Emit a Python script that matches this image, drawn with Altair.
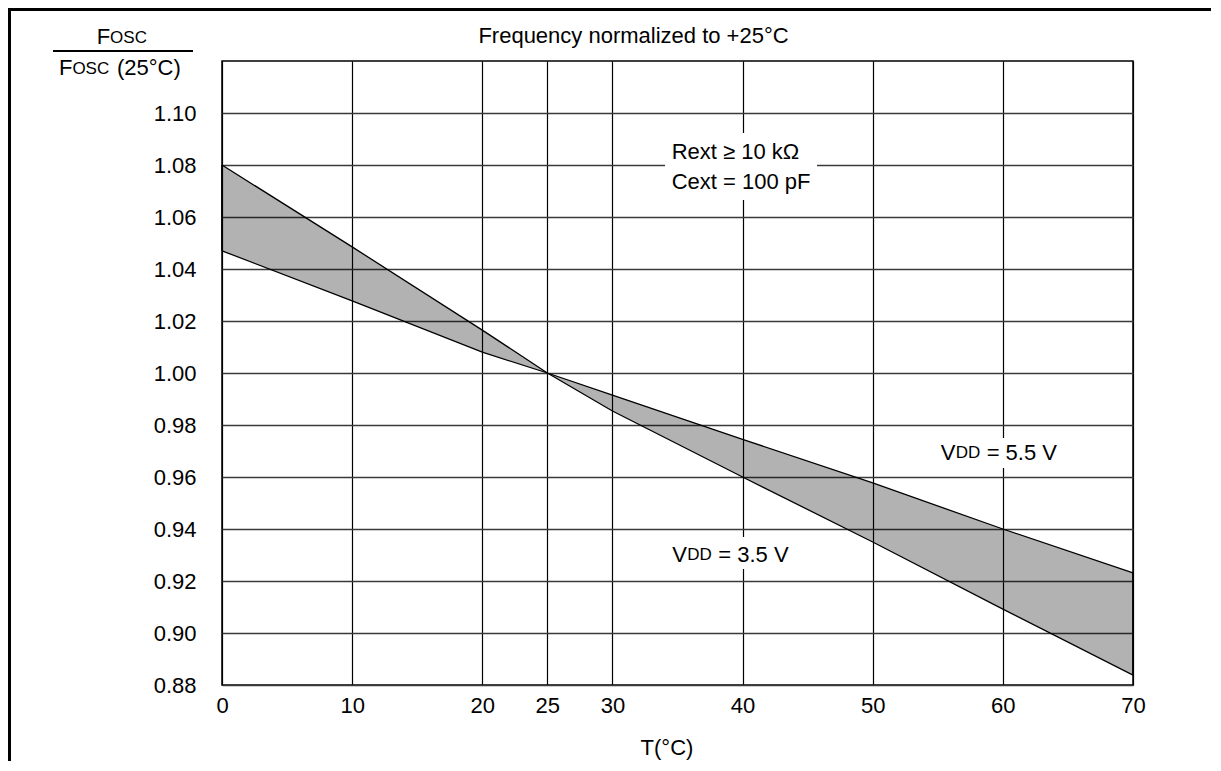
import altair as alt
import pandas as pd

# ---- data ----
temps = [0, 10, 20, 25, 30, 40, 50, 60, 70]
vdd_35 = [1.080, 1.0485, 1.0165, 1.000, 0.9854, 0.960, 0.935, 0.9092, 0.8838]
vdd_55 = [1.047, 1.0277, 1.008, 1.000, 0.9915, 0.9745, 0.9577, 0.940, 0.9231]
x_ticks = [0, 10, 20, 25, 30, 40, 50, 60, 70]
y_ticks = [0.88, 0.90, 0.92, 0.94, 0.96, 0.98, 1.00, 1.02, 1.04, 1.06, 1.08, 1.10]

FONT = "Liberation Sans"
FS = 22
W, H = 911, 624

df = pd.DataFrame({"T": temps, "v35": vdd_35, "v55": vdd_55})
one = pd.DataFrame({"a": [0]})

xs = alt.Scale(domain=[0, 70], nice=False, zero=False)
ys = alt.Scale(domain=[0.88, 1.12], nice=False, zero=False)

x_axis = alt.Axis(values=x_ticks, grid=True, gridColor="#000", gridWidth=1.2,
                  ticks=False, domain=False, labelPadding=10, labelFlush=False,
                  labelFont=FONT, labelFontSize=FS, labelColor="#000",
                  title=None)
y_axis = alt.Axis(values=y_ticks, format=".2f", grid=True, gridColor="#3a3a3a",
                  gridWidth=1.5, ticks=False, domain=False, labelPadding=26,
                  labelFont=FONT, labelFontSize=FS, labelColor="#000",
                  labelFlush=False, title=None)

base = alt.Chart(df)

band = base.mark_area(color="#000", opacity=0.3).encode(
    x=alt.X("T:Q", scale=xs, axis=x_axis),
    y=alt.Y("v35:Q", scale=ys, axis=y_axis),
    y2="v55:Q",
)
line35 = base.mark_line(color="#000", strokeWidth=1.3).encode(x="T:Q", y="v35:Q")
line55 = base.mark_line(color="#000", strokeWidth=1.3).encode(x="T:Q", y="v55:Q")
ends = base.transform_filter("datum.T == 0 || datum.T == 70").mark_rule(
    color="#000", strokeWidth=1.5).encode(x="T:Q", y="v35:Q", y2="v55:Q")

ann = alt.Chart(one)


def white_box(x0, x1, y0, y1):
    return ann.mark_rect(color="#fff").encode(
        x=alt.datum(x0), x2=alt.datum(x1), y=alt.datum(y0), y2=alt.datum(y1))


def dtext(txt, x, y, size=FS, dx=0):
    return ann.mark_text(text=txt, font=FONT, fontSize=size, color="#000",
                         align="left", baseline="middle", dx=dx).encode(
        x=alt.datum(x), y=alt.datum(y))


def ptext(txt, x, y, size=FS, align="left"):
    return ann.mark_text(text=txt, font=FONT, fontSize=size, color="#000",
                         align=align, baseline="middle").encode(
        x=alt.value(x), y=alt.value(y))


boxes = [
    white_box(34.04, 45.72, 1.0665, 1.0923),
    white_box(54.8, 64.9, 0.9635, 0.975),
    white_box(34.3, 43.8, 0.9246, 0.9369),
]

texts = [
    dtext("Rext ≥ 10 kΩ", 34.55, 1.0851),
    dtext("Cext = 100 pF", 34.55, 1.0736),
    dtext("V", 55.22, 0.9692),
    dtext("DD", 55.22, 0.9692, size=17, dx=15),
    dtext("= 5.5 V", 55.22, 0.9692, dx=46),
    dtext("V", 34.6, 0.930),
    dtext("DD", 34.6, 0.930, size=17, dx=15),
    dtext("= 3.5 V", 34.6, 0.930, dx=46),
]

outside = [
    ptext("Frequency normalized to +25°C", 411.5, -25, align="center"),
    ptext("T(°C)", 445, 687, align="center"),
    # y axis title as a fraction
    ptext("F", -125.3, -24.3),
    ptext("OSC", -111.9, -23.3, size=17),
    ptext("F", -163, 7),
    ptext("OSC", -149.6, 8, size=17),
    ptext("(25°C)", -105, 7),
    ann.mark_rule(color="#000", strokeWidth=2).encode(
        x=alt.value(-169), x2=alt.value(-29), y=alt.value(-10)),
    # outer frame (top and left edges)
    ann.mark_rule(color="#000", strokeWidth=3).encode(
        x=alt.value(-212.5), y=alt.value(-53), y2=alt.value(760)),
    ann.mark_rule(color="#000", strokeWidth=3).encode(
        x=alt.value(-214), x2=alt.value(1100), y=alt.value(-51.5)),
]

chart = alt.layer(band, line35, line55, ends, *boxes, *texts, *outside).properties(
    width=W, height=H,
    autosize=alt.AutoSizeParams(type="none"),
    padding={"left": 214, "top": 53, "right": 78, "bottom": 76},
    background="#fff",
).configure_view(
    stroke="#000", strokeWidth=1.5
)

chart.save("out.html", embed_options={"renderer": "svg", "actions": False})
